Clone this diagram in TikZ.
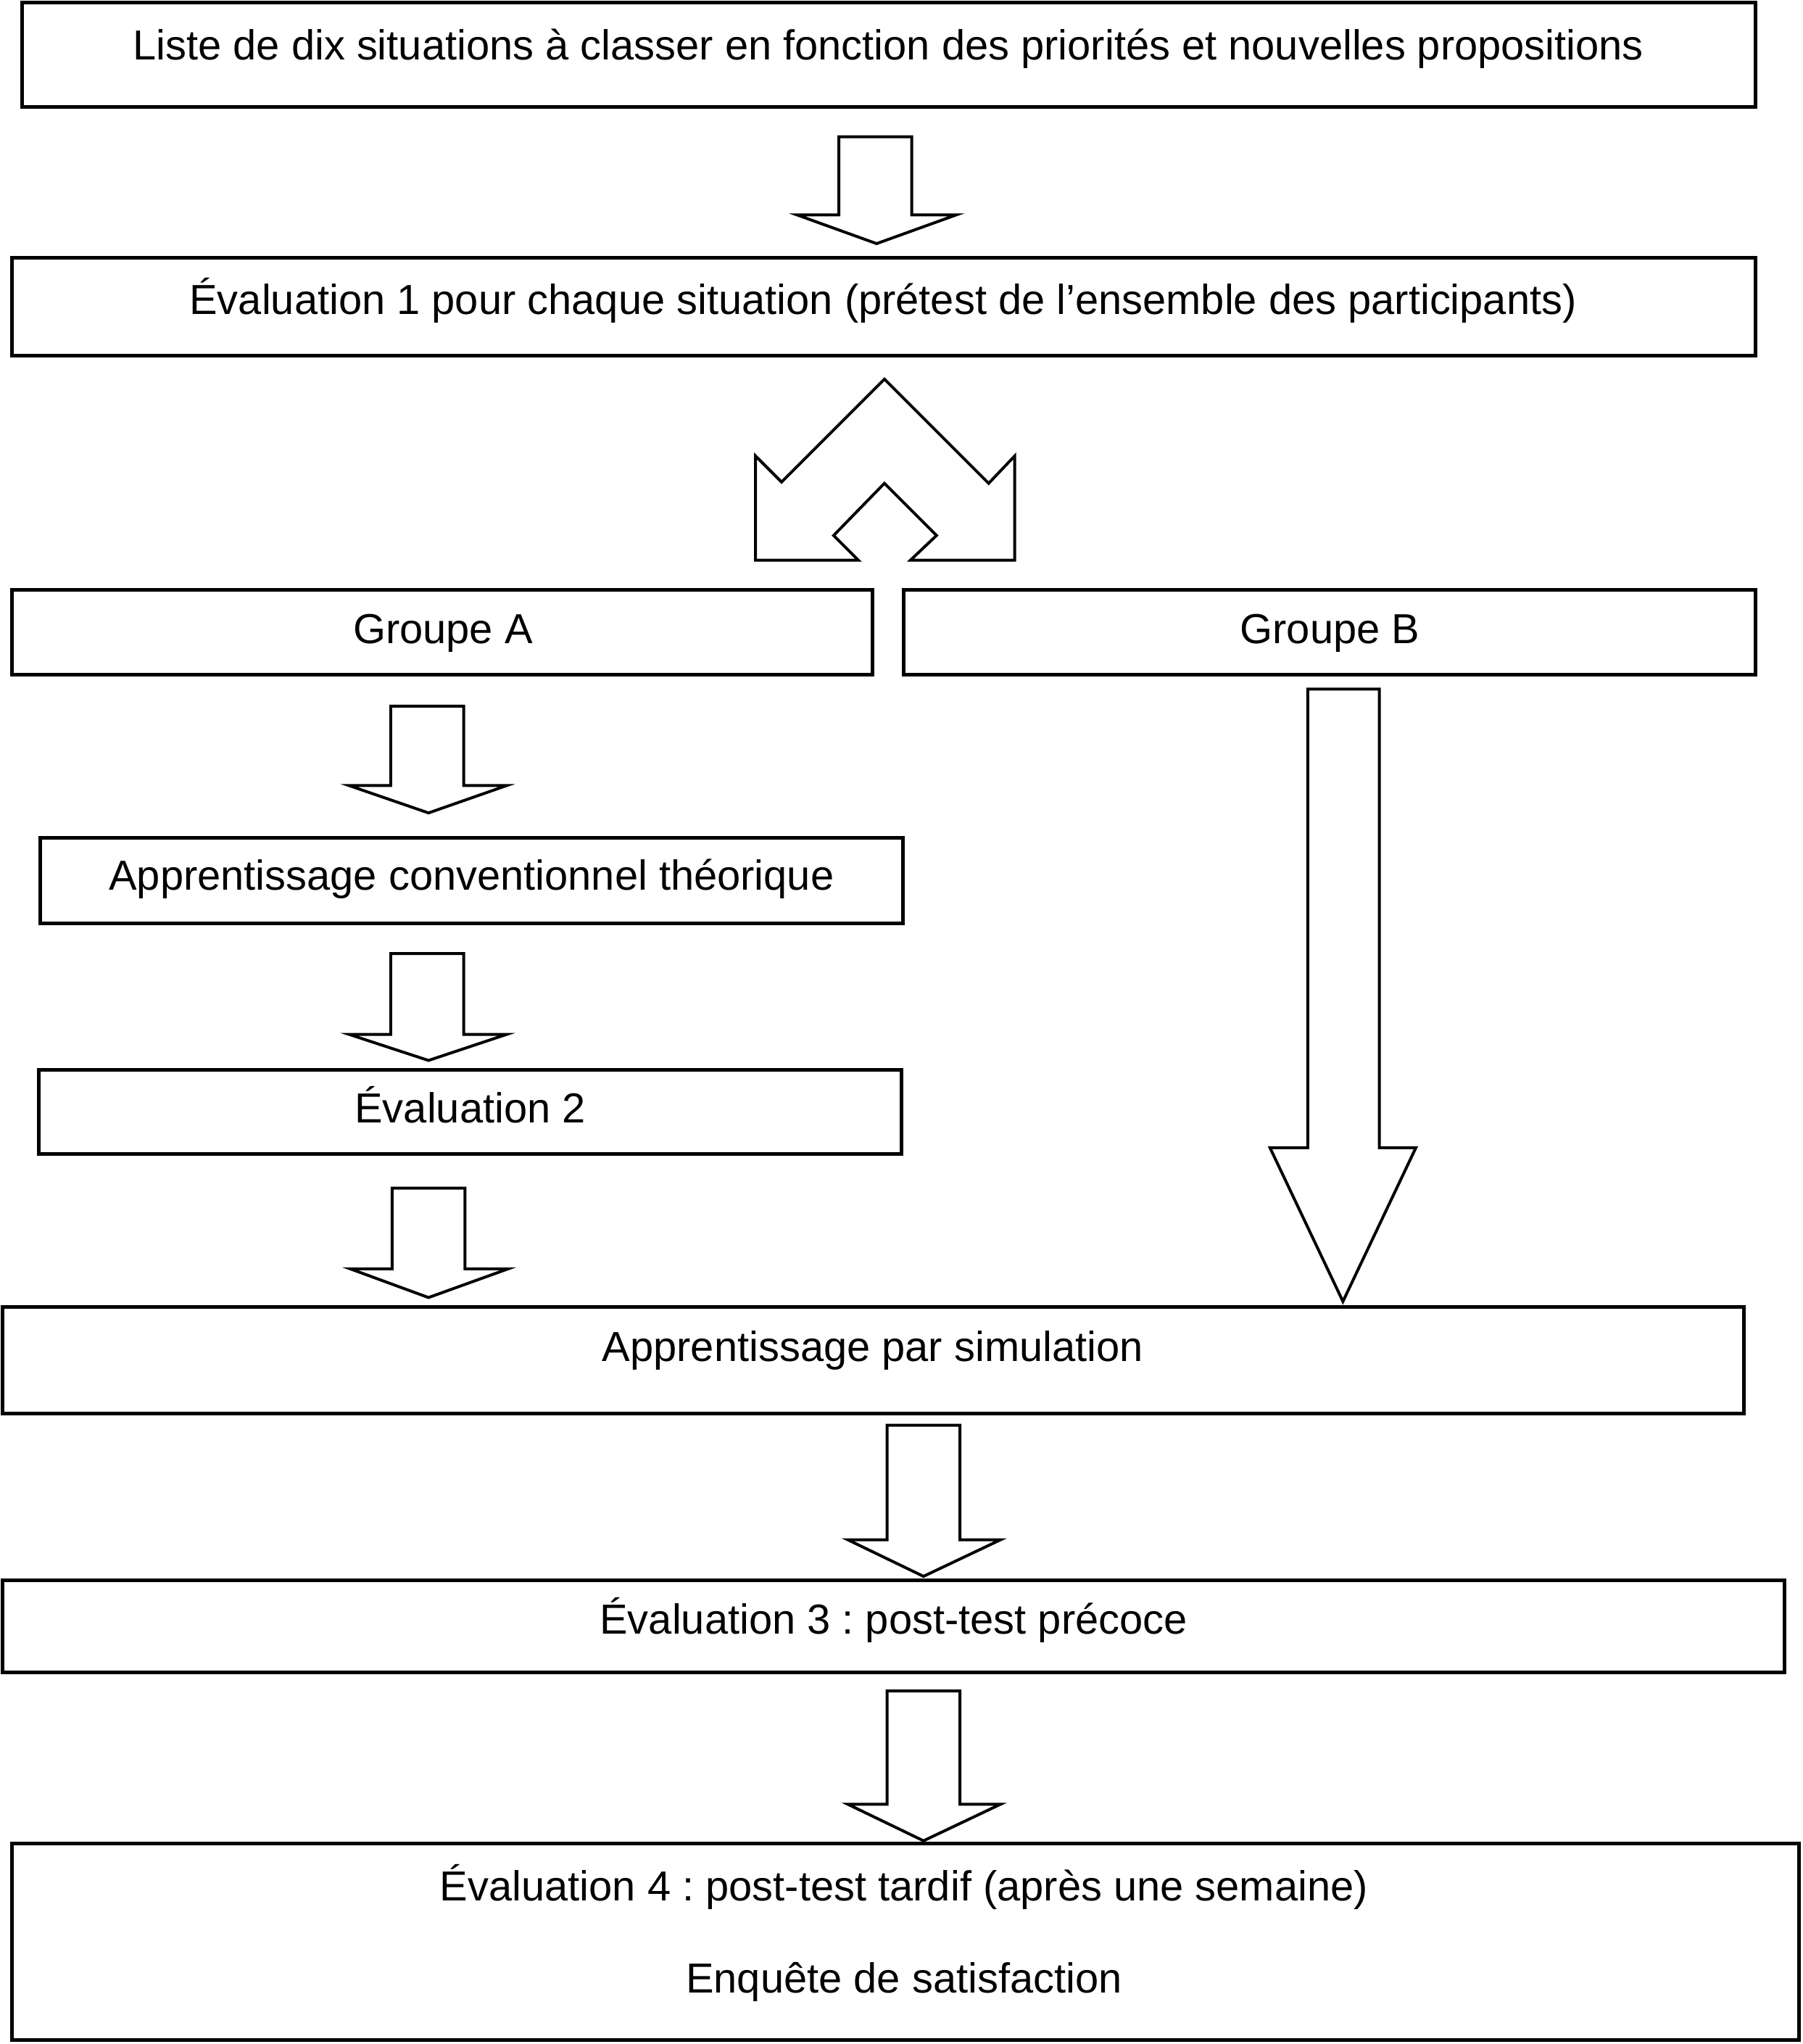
\documentclass[tikz,border=0pt]{standalone}
\usepackage{fontspec}
\setmainfont{Liberation Sans}
\frenchspacing
\begin{document}
\begin{tikzpicture}[x=0.5pt,y=-0.5pt,
  box/.style={draw=black,line width=1.4pt},
  blockarrow/.style={draw=black,line width=1.1pt,fill=white,line join=miter},
  lbl/.style={font=\fontsize{16.1pt}{19pt}\selectfont,anchor=base,inner sep=0pt}]
\useasboundingbox (0,0) rectangle (1384,1569);
% boxes
\draw[box] (17,2) rectangle (1348,82);
\draw[box] (9,198) rectangle (1348,273);
\draw[box] (9,453) rectangle (670,518);
\draw[box] (694,453) rectangle (1348,518);
\draw[box] (31,643) rectangle (693,709);
\draw[box] (30,821) rectangle (692,886);
\draw[box] (2,1003) rectangle (1339,1085);
\draw[box] (2,1213) rectangle (1370,1284);
\draw[box] (9,1415) rectangle (1381,1566);
% texts
\node[lbl] (t1) at (682,46) {Liste de dix situations à classer en fonction des priorités et nouvelles propositions};
\node[lbl] (t2) at (678,241) {Évaluation 1 pour chaque situation (prétest de l’ensemble des participants)};
\node[lbl] (ga) at (340,494) {Groupe A};
\node[lbl] (gb) at (1021,494) {Groupe B};
\node[lbl] (ac) at (362,683) {Apprentissage conventionnel théorique};
\node[lbl] (e2) at (361,862) {Évaluation 2};
\node[lbl] (sim) at (670,1045) {Apprentissage par simulation};
\node[lbl] (e3) at (686,1254) {\frenchspacing Évaluation 3 : post-test précoce};
\node[lbl] (e4) at (694,1459) {\frenchspacing Évaluation 4 : post-test tardif (après une semaine)};
\node[lbl] (sat) at (694,1530) {Enquête de satisfaction};
% block arrows (down)
\draw[blockarrow] (644,105) -- (700,105) -- (700,165) -- (734,165) -- (673,187) -- (612,165) -- (644,165) -- cycle;
\draw[blockarrow] (300,542) -- (356,542) -- (356,603) -- (389,603) -- (329,624) -- (268,603) -- (300,603) -- cycle;
\draw[blockarrow] (300,732) -- (356,732) -- (356,794) -- (389,794) -- (329,814) -- (268,794) -- (300,794) -- cycle;
\draw[blockarrow] (301,912) -- (357,912) -- (357,974) -- (390,974) -- (329,996) -- (269,974) -- (301,974) -- cycle;
\draw[blockarrow] (1004,529) -- (1059,529) -- (1059,881) -- (1087,881) -- (1031,999) -- (975,881) -- (1004,881) -- cycle;
\draw[blockarrow] (681,1094) -- (737,1094) -- (737,1182) -- (768,1182) -- (709,1210) -- (651,1182) -- (681,1182) -- cycle;
\draw[blockarrow] (681,1298) -- (737,1298) -- (737,1385) -- (768,1385) -- (709,1413) -- (651,1385) -- (681,1385) -- cycle;
% split arrow
\draw[blockarrow] (679,291) -- (759,371) -- (779,350) -- (779,430) -- (699,430) -- (719,411) -- (679,371) -- (640,411) -- (659,430) -- (580,430) -- (580,350) -- (600,370) -- cycle;
\end{tikzpicture}
\end{document}
